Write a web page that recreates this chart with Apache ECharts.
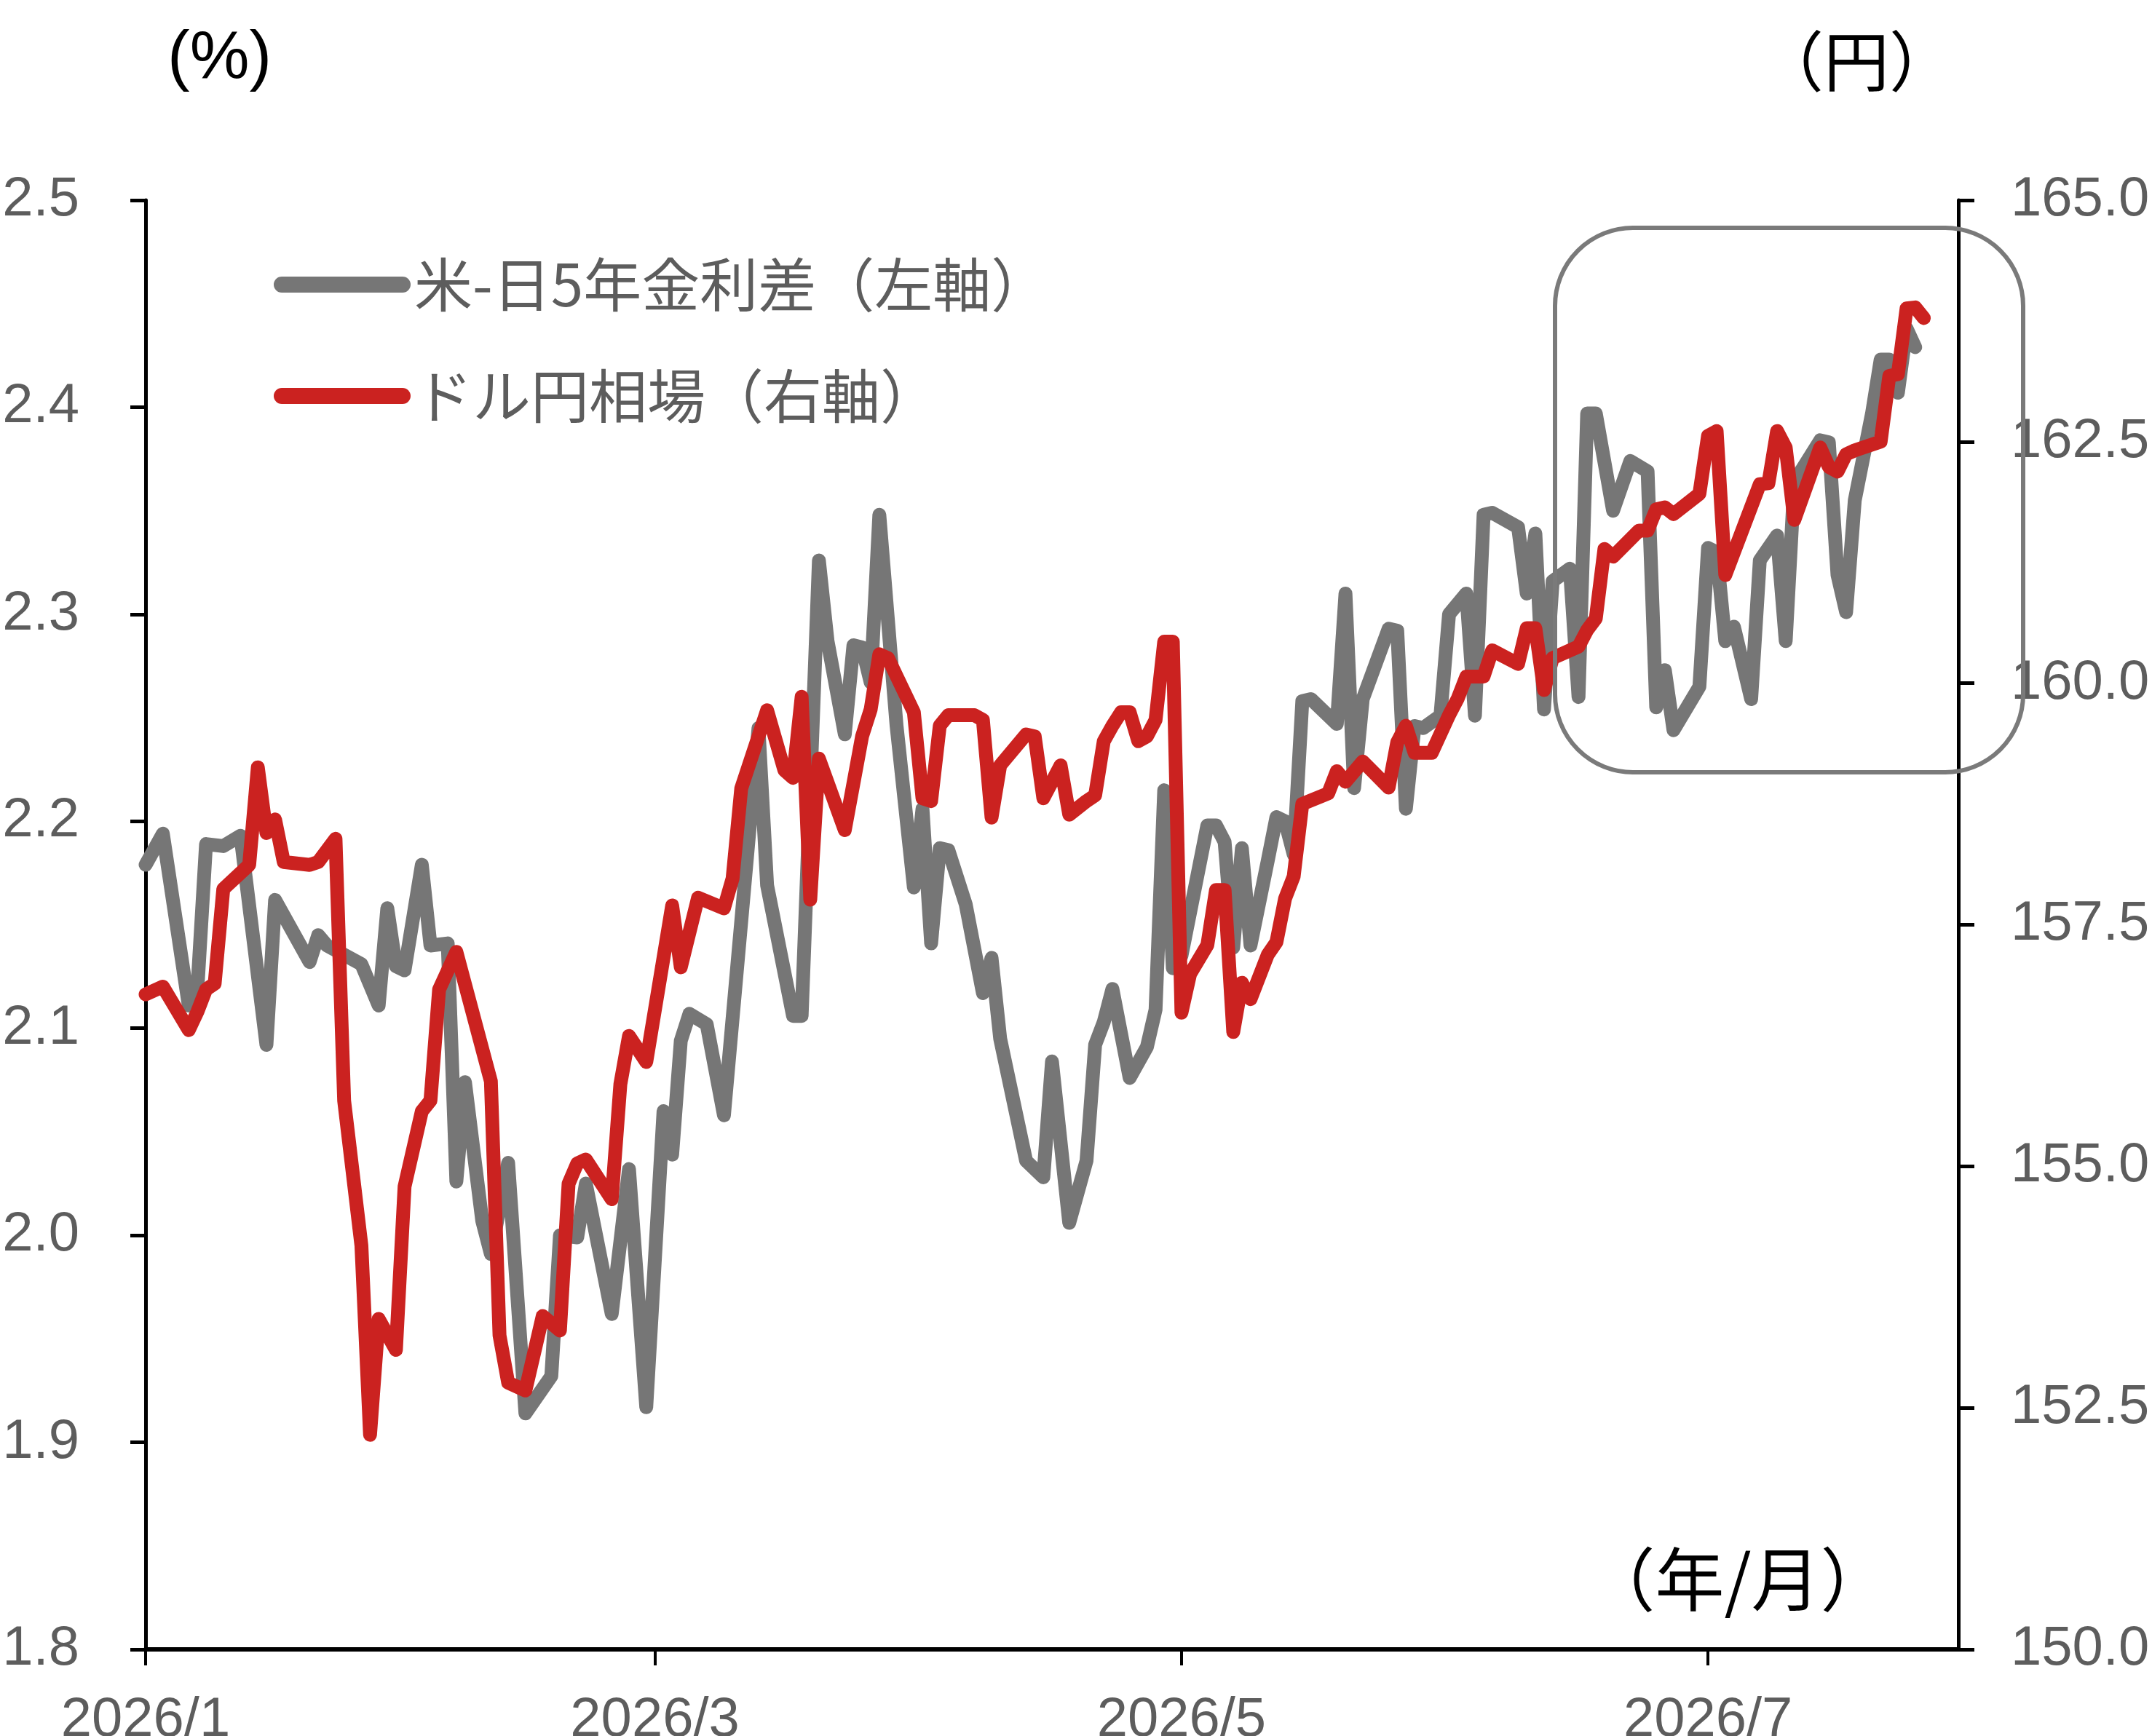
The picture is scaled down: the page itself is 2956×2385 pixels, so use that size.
<!DOCTYPE html>
<html>
<head>
<meta charset="utf-8">
<script src="https://cdn.jsdelivr.net/npm/echarts@6/dist/echarts.min.js"></script>
<style>
html,body{margin:0;padding:0;background:#fff;}
#chart{width:2956px;height:2385px;}
</style>
</head>
<body>
<div id="chart"></div>
<script>
// ---- data (2026) ----
const spreadDates = [
  '01-01','01-03','01-06','01-07','01-08','01-10','01-12','01-15','01-16','01-20',
  '01-21','01-22','01-26','01-28','01-29','01-30','01-31','02-02','02-03','02-05',
  '02-06','02-07','02-09','02-10','02-12','02-14','02-17','02-18','02-20','02-21',
  '02-24','02-26','02-28','03-02','03-03','03-04','03-05','03-07','03-09','03-13',
  '03-14','03-17','03-18','03-20','03-21','03-23','03-24','03-25','03-26','03-27',
  '03-29','03-31','04-01','04-02','04-03','04-04','04-06','04-08','04-09','04-10',
  '04-13','04-15','04-16','04-18','04-20','04-21','04-22','04-23','04-25','04-27',
  '04-28','04-29','04-30','05-01','05-04','05-05','05-06','05-07','05-08','05-09',
  '05-11','05-12','05-13','05-14','05-15','05-16','05-19','05-20','05-21','05-22',
  '05-25','05-26','05-27','05-28','05-29','05-31','06-01','06-03','06-04','06-05',
  '06-06','06-09','06-10','06-11','06-12','06-13','06-15','06-16','06-17','06-18',
  '06-20','06-22','06-24','06-25','06-26','06-27','06-30','07-01','07-02','07-03',
  '07-04','07-06','07-07','07-09','07-10','07-11','07-14','07-15','07-16','07-17',
  '07-18','07-20','07-21','07-22','07-23','07-24','07-25'
];
const spreadValues = [
  2.179,2.194,2.111,2.119,2.189,2.188,2.193,2.092,2.162,2.132,
  2.145,2.140,2.131,2.111,2.158,2.130,2.128,2.179,2.140,2.141,
  2.026,2.074,2.007,1.991,2.035,1.914,1.932,2.000,1.999,2.025,
  1.962,2.032,1.917,2.060,2.039,2.094,2.107,2.102,2.058,2.245,
  2.169,2.106,2.106,2.326,2.287,2.242,2.285,2.284,2.267,2.348,
  2.246,2.168,2.206,2.141,2.187,2.186,2.160,2.117,2.134,2.095,
  2.036,2.028,2.084,2.006,2.036,2.092,2.103,2.119,2.076,2.091,
  2.109,2.215,2.129,2.135,2.198,2.198,2.190,2.139,2.187,2.140,
  2.181,2.202,2.200,2.184,2.258,2.259,2.247,2.310,2.216,2.259,
  2.293,2.292,2.206,2.246,2.245,2.251,2.300,2.310,2.251,2.348,
  2.349,2.342,2.310,2.339,2.254,2.316,2.322,2.260,2.397,2.397,
  2.350,2.374,2.369,2.255,2.273,2.244,2.265,2.332,2.330,2.287,
  2.294,2.259,2.326,2.338,2.287,2.364,2.384,2.383,2.319,2.301,
  2.355,2.397,2.423,2.423,2.407,2.438,2.429
];
const usdjpyDates = [
  '01-01','01-03','01-06','01-07','01-08','01-09','01-10','01-13','01-14','01-15',
  '01-16','01-17','01-20','01-21','01-23','01-24','01-26','01-27','01-28','01-30',
  '01-31','02-02','02-03','02-04','02-06','02-10','02-11','02-12','02-14','02-16',
  '02-18','02-19','02-20','02-21','02-24','02-25','02-26','02-28','03-03','03-04',
  '03-06','03-09','03-10','03-11','03-14','03-16','03-17','03-18','03-19','03-20',
  '03-23','03-25','03-26','03-27','03-28','03-31','04-01','04-02','04-03','04-04',
  '04-07','04-08','04-09','04-10','04-13','04-14','04-15','04-17','04-18','04-20',
  '04-21','04-22','04-23','04-24','04-25','04-26','04-27','04-28','04-29','04-30',
  '05-01','05-02','05-04','05-05','05-06','05-07','05-08','05-09','05-11','05-12',
  '05-13','05-14','05-15','05-18','05-19','05-20','05-22','05-25','05-26','05-27',
  '05-28','05-30','06-01','06-02','06-03','06-05','06-06','06-09','06-10','06-11',
  '06-12','06-13','06-16','06-17','06-18','06-19','06-20','06-23','06-24','06-25',
  '06-26','06-27','06-30','07-01','07-02','07-03','07-07','07-08','07-09','07-10',
  '07-11','07-14','07-15','07-16','07-17','07-18','07-21','07-22','07-23','07-24',
  '07-25','07-26'
];
const usdjpyValues = [
  156.78,156.86,156.41,156.60,156.83,156.89,157.87,158.12,159.13,158.45,
  158.59,158.15,158.12,158.15,158.39,155.68,154.18,152.22,153.42,153.10,
  154.79,155.57,155.68,156.83,157.22,155.88,153.25,152.76,152.68,153.45,
  153.30,154.82,155.03,155.07,154.66,155.85,156.35,156.08,157.70,157.06,
  157.78,157.67,157.98,158.91,159.72,159.10,159.02,159.86,157.76,159.22,
  158.48,159.45,159.73,160.30,160.26,159.70,158.81,158.78,159.56,159.67,
  159.67,159.62,158.61,159.15,159.47,159.45,158.81,159.15,158.64,158.78,
  158.84,159.40,159.56,159.70,159.70,159.40,159.45,159.62,160.43,160.43,
  156.59,156.99,157.29,157.86,157.86,156.39,156.90,156.73,157.19,157.32,
  157.77,158.00,158.75,158.86,159.09,158.98,159.19,158.92,159.39,159.56,
  159.28,159.28,159.67,159.84,160.07,160.07,160.34,160.20,160.57,160.57,
  159.93,160.26,160.38,160.55,160.67,161.39,161.31,161.58,161.58,161.80,
  161.82,161.75,161.96,162.56,162.61,161.12,162.06,162.07,162.61,162.44,
  161.69,162.44,162.24,162.19,162.37,162.41,162.50,163.18,163.20,163.88,
  163.89,163.78
];
const tickDates = ['01-01','03-01','05-01','07-01'];
const tickLabels = ['2026/1','2026/3','2026/5','2026/7'];
const leftTicks = {min: 1.8, max: 2.5, interval: 0.1};
const rightTicks = {min: 150, max: 165, interval: 2.5};
const axisEndDate = '07-30';
const seriesNames = ['米-日5年金利差（左軸）', 'ドル円相場（右軸）'];

// ---- helpers ----
const YEAR = 2026;
function dayIndex(s) {
  const m = +s.slice(0, 2), d = +s.slice(3, 5);
  return (Date.UTC(YEAR, m - 1, d) - Date.UTC(YEAR, 0, 1)) / 86400000;
}
const tickDays = tickDates.map(dayIndex);
const spreadData = spreadDates.map((s, i) => [dayIndex(s), spreadValues[i]]);
const usdjpyData = usdjpyDates.map((s, i) => [dayIndex(s), usdjpyValues[i]]);

const LABEL_FONT = '"Liberation Sans", Arial, sans-serif';
const CJK_FONT = '"Noto Sans CJK JP", "Noto Sans", sans-serif';
const labelColor = '#5d5d5d';
const GRAY = '#767676';
const RED = '#cb2220';

const chart = echarts.init(document.getElementById('chart'), null, {renderer: 'canvas'});
chart.setOption({
  animation: false,
  backgroundColor: '#ffffff',
  grid: {left: 200, right: 266, top: 275, bottom: 119, containLabel: false, outerBoundsMode: 'none'},
  legend: {
    data: seriesNames,
    orient: 'vertical',
    left: 371,
    top: 346,
    itemGap: 73,
    itemWidth: 188,
    itemHeight: 22,
    icon: 'path://M11,0H177A11,11,0,0,1,177,22H11A11,11,0,0,1,11,0Z',
    textStyle: {fontFamily: CJK_FONT, fontSize: 80, color: labelColor}
  },
  xAxis: {
    type: 'value',
    min: 0,
    max: dayIndex(axisEndDate),
    splitLine: {show: false},
    axisLine: {show: true, onZero: false, lineStyle: {color: '#000', width: 6}},
    axisTick: {show: true, inside: false, length: 22, customValues: tickDays,
               lineStyle: {color: '#000', width: 4}},
    axisLabel: {
      customValues: tickDays,
      margin: 60,
      fontFamily: LABEL_FONT, fontSize: 76, color: labelColor,
      formatter: v => { const i = tickDays.indexOf(v); return i >= 0 ? tickLabels[i] : ''; }
    }
  },
  yAxis: [
    {
      type: 'value', position: 'left',
      min: leftTicks.min, max: leftTicks.max, interval: leftTicks.interval,
      splitLine: {show: false},
      axisLine: {show: true, onZero: false, lineStyle: {color: '#000', width: 5}},
      axisTick: {show: true, inside: false, length: 21, lineStyle: {color: '#000', width: 5}},
      axisLabel: {margin: 91, fontFamily: LABEL_FONT, fontSize: 76, color: labelColor,
                  formatter: v => v.toFixed(1)}
    },
    {
      type: 'value', position: 'right',
      min: rightTicks.min, max: rightTicks.max, interval: rightTicks.interval,
      splitLine: {show: false},
      axisLine: {show: true, onZero: false, lineStyle: {color: '#000', width: 5}},
      axisTick: {show: true, inside: false, length: 22, lineStyle: {color: '#000', width: 5}},
      axisLabel: {margin: 72, fontFamily: LABEL_FONT, fontSize: 76, color: labelColor,
                  formatter: v => v.toFixed(1)}
    }
  ],
  series: [
    {
      name: seriesNames[0], type: 'line', yAxisIndex: 0, data: spreadData,
      showSymbol: false, symbol: 'none', z: 3,
      itemStyle: {color: GRAY},
      lineStyle: {color: GRAY, width: 19, cap: 'round', join: 'round'}
    },
    {
      name: seriesNames[1], type: 'line', yAxisIndex: 1, data: usdjpyData,
      showSymbol: false, symbol: 'none', z: 4,
      itemStyle: {color: RED},
      lineStyle: {color: RED, width: 19, cap: 'round', join: 'round'}
    }
  ],
  graphic: [
    {type: 'text', left: 230, top: 36, z: 10,
     style: {text: '(%)', font: '92px ' + LABEL_FONT, fill: '#000'}},
    {type: 'text', x: 2550, y: 84, z: 10,
     style: {text: '（円）', font: '90px ' + CJK_FONT, fill: '#000',
             textAlign: 'center', textVerticalAlign: 'middle'}},
    {type: 'text', x: 2387, y: 2170, z: 10,
     style: {text: '（年/月）', font: '95px ' + CJK_FONT, fill: '#000',
             textAlign: 'center', textVerticalAlign: 'middle'}},
    {type: 'rect', z: 100,
     shape: {x: 2136, y: 313, width: 643, height: 748, r: 107},
     style: {fill: 'none', stroke: '#7a7a7a', lineWidth: 6}}
  ]
});
</script>
</body>
</html>
